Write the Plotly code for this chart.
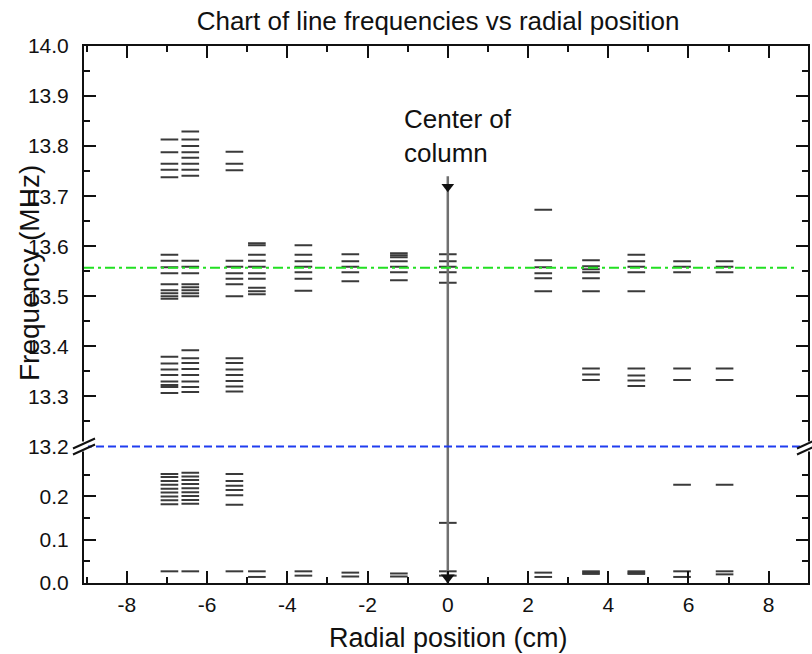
import plotly.graph_objects as go

# Radial positions (cm) of the measurement columns
positions = [-6.94, -6.42, -5.32, -4.76, -3.6, -2.43, -1.22, 0.0, 2.38, 3.57, 4.7, 5.84, 6.9]

# Line frequencies (MHz) in the 13.2-14.0 band, one list per column
upper_freqs = [
    [13.813, 13.788, 13.765, 13.753, 13.738, 13.583, 13.571, 13.558, 13.546, 13.524,
     13.512, 13.506, 13.500, 13.495, 13.379, 13.366, 13.354, 13.343, 13.330, 13.323,
     13.319, 13.307],
    [13.829, 13.813, 13.800, 13.788, 13.777, 13.765, 13.753, 13.741, 13.571, 13.559,
     13.546, 13.524, 13.518, 13.512, 13.506, 13.500, 13.392, 13.376, 13.367, 13.355,
     13.343, 13.330, 13.319, 13.309],
    [13.789, 13.765, 13.752, 13.571, 13.559, 13.546, 13.535, 13.524, 13.500, 13.376,
     13.367, 13.354, 13.343, 13.331, 13.320, 13.310],
    [13.606, 13.602, 13.583, 13.571, 13.559, 13.546, 13.535, 13.517, 13.510, 13.504],
    [13.602, 13.583, 13.570, 13.559, 13.548, 13.535, 13.511],
    [13.584, 13.570, 13.559, 13.548, 13.530],
    [13.586, 13.582, 13.578, 13.570, 13.559, 13.548, 13.532],
    [13.584, 13.570, 13.559, 13.548, 13.527],
    [13.673, 13.572, 13.558, 13.546, 13.536, 13.510],
    [13.572, 13.560, 13.554, 13.548, 13.536, 13.510, 13.356, 13.344, 13.333],
    [13.583, 13.570, 13.559, 13.548, 13.510, 13.356, 13.342, 13.332, 13.321],
    [13.570, 13.559, 13.548, 13.356, 13.333],
    [13.570, 13.559, 13.548, 13.356, 13.333],
]

# Line frequencies (MHz) in the 0-0.3 band, one list per column
lower_freqs = [
    [0.252, 0.245, 0.236, 0.227, 0.218, 0.209, 0.200, 0.191, 0.182, 0.027],
    [0.255, 0.246, 0.238, 0.229, 0.219, 0.210, 0.201, 0.192, 0.183, 0.027],
    [0.252, 0.236, 0.225, 0.215, 0.203, 0.181, 0.027],
    [0.027, 0.014],
    [0.027, 0.017],
    [0.024, 0.015],
    [0.022, 0.015],
    [0.139, 0.027, 0.017],
    [0.024, 0.014],
    [0.027, 0.024, 0.021],
    [0.027, 0.024, 0.021],
    [0.227, 0.027, 0.014],
    [0.227, 0.027, 0.020],
]

reference_freq = 13.557     # green dash-dot reference level
upper_range = [13.2, 14.0]
lower_range = [0.0, 0.3155]
x_range = [-9.07, 8.98]
x_ticks = [-8, -6, -4, -2, 0, 2, 4, 6, 8]
upper_ticks = [13.2, 13.3, 13.4, 13.5, 13.6, 13.7, 13.8, 13.9, 14.0]
lower_ticks = [0.0, 0.1, 0.2]
lower_minor = [0.05, 0.15, 0.25]
center_x = 0.0
arrow_top = 13.74

HALF = 0.22  # half length of each spectral-line dash (cm)
FONT = "Liberation Sans, Arial, sans-serif"
INK = "#111111"
LINE_COLOR = "#3a3a3a"


def dashes(xs, groups):
    px, py = [], []
    for x, fs in zip(xs, groups):
        for f in fs:
            px += [x - HALF, x + HALF, None]
            py += [f, f, None]
    return px, py


fig = go.Figure()

ux, uy = dashes(positions, upper_freqs)
lx, ly = dashes(positions, lower_freqs)

fig.add_trace(go.Scatter(x=ux, y=uy, xaxis="x2", yaxis="y2", mode="lines",
                         line=dict(color=LINE_COLOR, width=2), hoverinfo="skip"))
fig.add_trace(go.Scatter(x=lx, y=ly, xaxis="x", yaxis="y", mode="lines",
                         line=dict(color=LINE_COLOR, width=2), hoverinfo="skip"))

# Column-centre arrow, continuous through the axis break
fig.add_trace(go.Scatter(x=[center_x, center_x], y=[arrow_top, upper_range[0]],
                         xaxis="x2", yaxis="y2", mode="lines",
                         line=dict(color="#707070", width=2.5), hoverinfo="skip"))
fig.add_trace(go.Scatter(x=[center_x, center_x], y=[lower_range[1], lower_range[0]],
                         xaxis="x", yaxis="y", mode="lines",
                         line=dict(color="#707070", width=2.5), hoverinfo="skip"))
fig.add_trace(go.Scatter(x=[center_x], y=[13.719], xaxis="x2", yaxis="y2", mode="markers",
                         marker=dict(symbol="triangle-down", size=11, color=INK),
                         hoverinfo="skip"))
fig.add_trace(go.Scatter(x=[center_x], y=[0.013], xaxis="x", yaxis="y", mode="markers",
                         marker=dict(symbol="triangle-down", size=12, color=INK),
                         hoverinfo="skip", cliponaxis=False))

split = 136.6 / 537.3

axis_common = dict(showline=True, linewidth=2, linecolor=INK, showgrid=False,
                   zeroline=False, ticks="inside", tickwidth=2, tickcolor=INK,
                   ticklen=12)
tick_font = dict(family=FONT, size=21, color=INK)
x_minor = dict(ticks="inside", dtick=1, tick0=-9, ticklen=6, tickwidth=2, tickcolor=INK)

fig.update_layout(
    width=812, height=654,
    margin=dict(l=84, r=2, t=46, b=71),
    paper_bgcolor="white", plot_bgcolor="white",
    showlegend=False,
    title=dict(text="Chart of line frequencies vs radial position",
               x=438 / 812, xanchor="center", xref="container",
               y=1 - 21 / 654, yanchor="middle", yref="container",
               font=dict(family=FONT, size=26, color=INK)),
    xaxis=dict(**axis_common, range=x_range, anchor="y", domain=[0, 1],
               tickmode="array", tickvals=x_ticks,
               ticktext=[str(v) for v in x_ticks], tickfont=tick_font,
               ticklabelstandoff=2, minor=x_minor),
    xaxis2=dict(**axis_common, range=x_range, anchor="y2", matches="x", side="top",
                showticklabels=False, tickmode="array", tickvals=x_ticks,
                minor=x_minor),
    yaxis=dict(**axis_common, range=lower_range, domain=[0, split], anchor="x",
               mirror="ticks", tickmode="array", tickvals=lower_ticks,
               ticktext=[f"{v:.1f}" for v in lower_ticks], tickfont=tick_font,
               ticklabelstandoff=9,
               minor=dict(ticks="inside", tickmode="array", tickvals=lower_minor,
                          ticklen=6, tickwidth=2, tickcolor=INK)),
    yaxis2=dict(**axis_common, range=upper_range, domain=[split, 1], anchor="x2",
                mirror="ticks", tickmode="array", tickvals=upper_ticks,
                ticktext=[f"{v:.1f}" for v in upper_ticks], tickfont=tick_font,
                ticklabelstandoff=9,
                minor=dict(ticks="inside", dtick=0.05, tick0=13.2, ticklen=6,
                           tickwidth=2, tickcolor=INK)),
)

# Green reference level
fig.add_shape(type="line", xref="paper", yref="y2", x0=0, x1=0.985,
              y0=reference_freq, y1=reference_freq,
              line=dict(color="#22e022", width=2, dash="10px,4px,3px,4px"))
# Blue dashed line along the axis break (bottom edge of the upper band)
fig.add_shape(type="line", xref="paper", yref="y2 domain", x0=0, x1=1, y0=0, y1=0,
              line=dict(color="#1f3cf0", width=2, dash="8px,4px"))

# Axis-break marks on both frame sides
for xa in (0, 1):
    fig.add_shape(type="rect", xref="paper", yref="y2 domain", xsizemode="pixel",
                  ysizemode="pixel", xanchor=xa, yanchor=0,
                  x0=-4, x1=4, y0=-5, y1=5, fillcolor="white", line=dict(width=0),
                  layer="above")
    for dy in (-3, 3):
        fig.add_shape(type="line", xref="paper", yref="y2 domain", xsizemode="pixel",
                      ysizemode="pixel", xanchor=xa, yanchor=0,
                      x0=-11, x1=11, y0=dy - 5, y1=dy + 5,
                      line=dict(color=INK, width=2), layer="above")

fig.add_annotation(text="Center of<br>column", xref="x2", yref="y2",
                   x=-1.14, y=13.888, xanchor="left", yanchor="top", align="left",
                   showarrow=False, font=dict(family=FONT, size=26, color=INK))
fig.add_annotation(text="Frequency (MHz)", xref="paper", yref="paper",
                   x=(30 - 84) / 726, y=(583.3 - 273) / 537.3, textangle=-90,
                   xanchor="center", yanchor="middle", showarrow=False,
                   font=dict(family=FONT, size=28, color=INK))
fig.add_annotation(text="Radial position (cm)", xref="paper", yref="paper",
                   x=(450 - 84) / 726, y=(583.3 - 638) / 537.3,
                   xanchor="center", yanchor="middle", showarrow=False,
                   font=dict(family=FONT, size=27, color=INK))

fig.write_html("out.html")
